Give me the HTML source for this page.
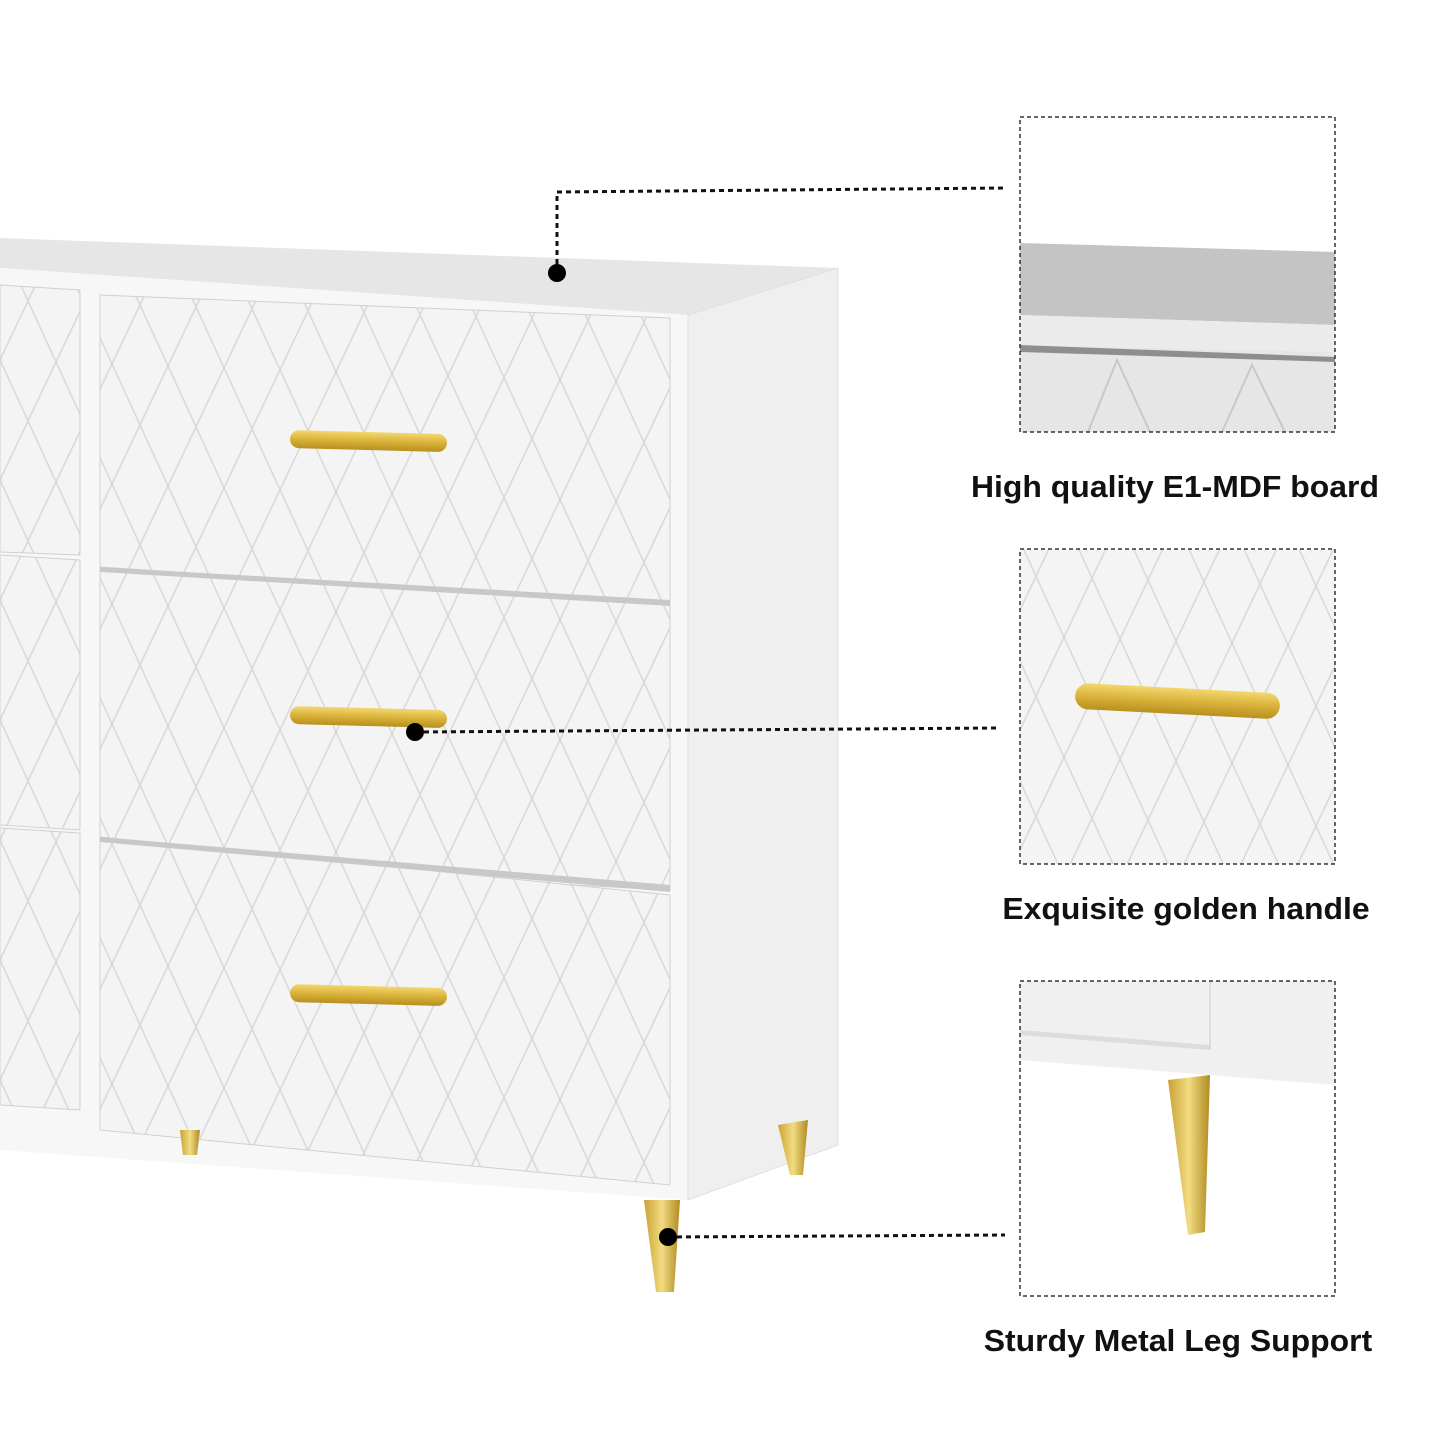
<!DOCTYPE html>
<html><head><style>
body{margin:0;background:#fff;}
.lbl{position:absolute;font-family:"Liberation Sans",sans-serif;font-weight:bold;font-size:31px;color:#111;white-space:nowrap;transform:translateX(-50%) scaleX(1.03);}
</style></head><body>
<div style="position:relative;width:1445px;height:1445px;overflow:hidden">
<svg width="1445" height="1445" xmlns="http://www.w3.org/2000/svg" style="position:absolute;left:0;top:0">
<defs>
<pattern id="dia" width="56" height="120" patternUnits="userSpaceOnUse" patternTransform="skewY(2)">
<rect width="56" height="120" fill="#f4f4f4"/>
<path d="M0,0 L28,60 L56,0 M0,120 L28,60 L56,120" stroke="#d8d8d8" stroke-width="1.5" fill="none"/>
</pattern>
<linearGradient id="gold" x1="0" y1="0" x2="0" y2="1"><stop offset="0" stop-color="#f3d870"/><stop offset="0.5" stop-color="#d9b23a"/><stop offset="1" stop-color="#b8901e"/></linearGradient>
<linearGradient id="leg" x1="0" y1="0" x2="1" y2="0"><stop offset="0" stop-color="#c9a233"/><stop offset="0.5" stop-color="#f2dc82"/><stop offset="1" stop-color="#b08a20"/></linearGradient>
</defs>
<polygon points="0,238 838,268 688,315 0,268" fill="#e6e6e6"/>
<polygon points="0,268 688,315 688,1200 0,1150" fill="#f7f7f7"/>
<polygon points="688,315 838,268 838,1145 688,1200" fill="#efefef" stroke="#e0e0e0"/>
<polygon points="100,295 670,318 670,603 100,580" fill="url(#dia)" stroke="#d0d0d0"/>
<polygon points="100,567 670,605 670,890 100,860" fill="url(#dia)" stroke="#d0d0d0"/>
<polygon points="100,837 670,895 670,1185 100,1130" fill="url(#dia)" stroke="#d0d0d0"/>
<polygon points="100,567 670,600 670,606 100,572" fill="#c8c8c8"/>
<polygon points="100,837 670,885 670,892 100,842" fill="#c8c8c8"/>
<polygon points="0,285 80,290 80,555 0,552" fill="url(#dia)" stroke="#d0d0d0"/>
<polygon points="0,555 80,560 80,830 0,825" fill="url(#dia)" stroke="#d0d0d0"/>
<polygon points="0,828 80,833 80,1110 0,1105" fill="url(#dia)" stroke="#d0d0d0"/>
<rect x="290" y="432" width="157" height="18" rx="9" fill="url(#gold)" transform="rotate(1.5 368 441)"/>
<rect x="290" y="708" width="157" height="18" rx="9" fill="url(#gold)" transform="rotate(1.5 368 717)"/>
<rect x="290" y="986" width="157" height="18" rx="9" fill="url(#gold)" transform="rotate(1.5 368 995)"/>
<polygon points="180,1130 200,1130 197,1155 183,1155" fill="url(#leg)"/>
<polygon points="778,1125 808,1120 803,1175 790,1175" fill="url(#leg)"/>
<polygon points="644,1200 680,1200 674,1292 656,1292" fill="url(#leg)"/>
<polyline points="557,273 557,192 1005,188" fill="none" stroke="#111" stroke-width="3" stroke-dasharray="5,4"/>
<line x1="415" y1="732" x2="1000" y2="728" stroke="#111" stroke-width="3" stroke-dasharray="5,4"/>
<line x1="668" y1="1237" x2="1005" y2="1235" stroke="#111" stroke-width="3" stroke-dasharray="5,4"/>
<circle cx="557" cy="273" r="9" fill="#000"/>
<circle cx="415" cy="732" r="9" fill="#000"/>
<circle cx="668" cy="1237" r="9" fill="#000"/>
<rect x="1020" y="117" width="315" height="315" fill="#fff"/>
<polygon points="1020,243 1335,252 1335,325 1020,315" fill="#c4c4c4"/>
<polygon points="1020,315 1335,325 1335,352 1020,345" fill="#ebebeb"/>
<polygon points="1020,345 1335,352 1335,432 1020,432" fill="#e6e6e6"/>
<polygon points="1020,345 1335,357 1335,362 1020,352" fill="#8e8e8e"/>
<path d="M1088,432 L1117,360 L1150,432 M1222,432 L1252,365 L1285,432" stroke="#c8c8c8" stroke-width="2" fill="none"/>
<rect x="1020" y="117" width="315" height="315" fill="none" stroke="#333" stroke-width="1.5" stroke-dasharray="4,3"/>
<rect x="1020" y="549" width="315" height="315" fill="url(#dia)"/>
<rect x="1075" y="688" width="205" height="26" rx="13" fill="url(#gold)" transform="rotate(3 1177 701)"/>
<rect x="1020" y="549" width="315" height="315" fill="none" stroke="#333" stroke-width="1.5" stroke-dasharray="4,3"/>
<rect x="1020" y="981" width="315" height="315" fill="#fff"/>
<polygon points="1020,981 1335,981 1335,1085 1020,1060" fill="#f0f0f0"/>
<polygon points="1020,1030 1210,1045 1210,1050 1020,1035" fill="#ddd"/>
<line x1="1210" y1="981" x2="1210" y2="1050" stroke="#ccc"/>
<polygon points="1168,1080 1210,1075 1205,1232 1188,1235" fill="url(#leg)"/>
<rect x="1020" y="981" width="315" height="315" fill="none" stroke="#333" stroke-width="1.5" stroke-dasharray="4,3"/>
</svg>
<div class="lbl" style="left:1175px;top:469px">High quality E1-MDF board</div>
<div class="lbl" style="left:1186px;top:891px">Exquisite golden handle</div>
<div class="lbl" style="left:1178px;top:1323px">Sturdy Metal Leg Support</div>
</div>
</body></html>
